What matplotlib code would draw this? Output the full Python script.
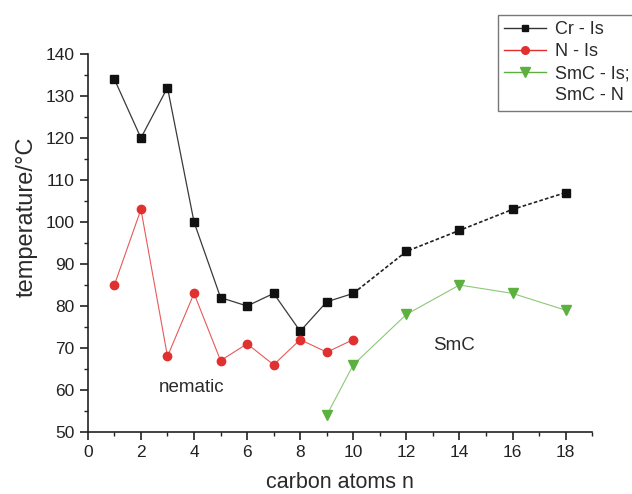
import matplotlib
matplotlib.use("Agg")
import matplotlib.pyplot as plt
from matplotlib.ticker import MultipleLocator
from matplotlib.lines import Line2D

plt.rcParams['font.family'] = ['Liberation Sans', 'DejaVu Sans']

n_cr = [1, 2, 3, 4, 5, 6, 7, 8, 9, 10, 12, 14, 16, 18]
cr_is = [134, 120, 132, 100, 82, 80, 83, 74, 81, 83, 93, 98, 103, 107]
n_n = [1, 2, 3, 4, 5, 6, 7, 8, 9, 10]
n_is = [85, 103, 68, 83, 67, 71, 66, 72, 69, 72]
n_smc = [9, 10, 12, 14, 16, 18]
smc = [54, 66, 78, 85, 83, 79]

fig = plt.figure(figsize=(6.32, 4.94), dpi=100)
ax = fig.add_axes([0.139, 0.1255, 0.798, 0.7652])

black = '#111111'
red = '#e03030'
green = '#5cb040'
txt = '#2a2a2a'

# Cr - Is: solid up to n=10, dashed after
split = n_cr.index(10)
ax.plot(n_cr[:split + 1], cr_is[:split + 1], color='#3a3a3a', lw=0.9, zorder=2)
ax.plot(n_cr[split:], cr_is[split:], color='#222222', lw=1.2, ls=(0, (2.2, 1.3)), zorder=2)
ax.plot(n_cr, cr_is, ls='none', marker='s', ms=5.5, color=black, zorder=3)

ax.plot(n_n, n_is, color=red, lw=0.8, alpha=0.8, zorder=2)
ax.plot(n_n, n_is, ls='none', marker='o', ms=6, color=red, zorder=3)

ax.plot(n_smc, smc, color=green, lw=0.8, alpha=0.7, zorder=2)
ax.plot(n_smc, smc, ls='none', marker='v', ms=7.5, color=green, zorder=3)

ax.text(3.92, 60.5, 'nematic', fontsize=13.5, ha='center', va='center', color=txt)
ax.text(13.8, 70.7, 'SmC', fontsize=13.5, ha='center', va='center', color=txt)

ax.set_xlim(0, 19)
ax.set_ylim(50, 140)
ax.xaxis.set_major_locator(MultipleLocator(2))
ax.xaxis.set_minor_locator(MultipleLocator(1))
ax.yaxis.set_major_locator(MultipleLocator(10))
ax.yaxis.set_minor_locator(MultipleLocator(5))
for s in ['top', 'right']:
    ax.spines[s].set_visible(False)
for s in ['left', 'bottom']:
    ax.spines[s].set_linewidth(1.2)
    ax.spines[s].set_color('#222222')
ax.tick_params(which='major', direction='out', length=5.5, width=1.2, pad=4,
               labelsize=12.5, colors='#222222')
ax.tick_params(which='minor', direction='out', length=3.2, width=1.0, colors='#222222')
ax.set_xlabel('carbon atoms n', fontsize=15.5, color=txt)
ax.xaxis.set_label_coords(0.5, -0.106)
ax.set_ylabel('temperature/°C', fontsize=17, color=txt)
ax.yaxis.set_label_coords(-0.10, 0.569)

handles = [
    Line2D([], [], color='#333333', lw=1.0, marker='s', ms=5, markerfacecolor=black, markeredgecolor=black),
    Line2D([], [], color=red, lw=1.0, marker='o', ms=5.5),
    Line2D([], [], color=green, lw=1.0, marker='v', ms=6.5),
    Line2D([], [], ls='none', marker='none'),
]
labels = ['Cr - Is', 'N - Is', 'SmC - Is;', 'SmC - N']
leg = fig.legend(handles, labels, loc='upper left', bbox_to_anchor=(0.788, 0.970),
                 fontsize=13, frameon=True, fancybox=False, edgecolor='#555555',
                 handlelength=2.3, borderpad=0.35, labelspacing=0.28, handletextpad=0.5,
                 borderaxespad=0)
leg.get_frame().set_linewidth(1.0)
for t in leg.get_texts():
    t.set_color(txt)

fig.savefig('out.png', dpi=100)
